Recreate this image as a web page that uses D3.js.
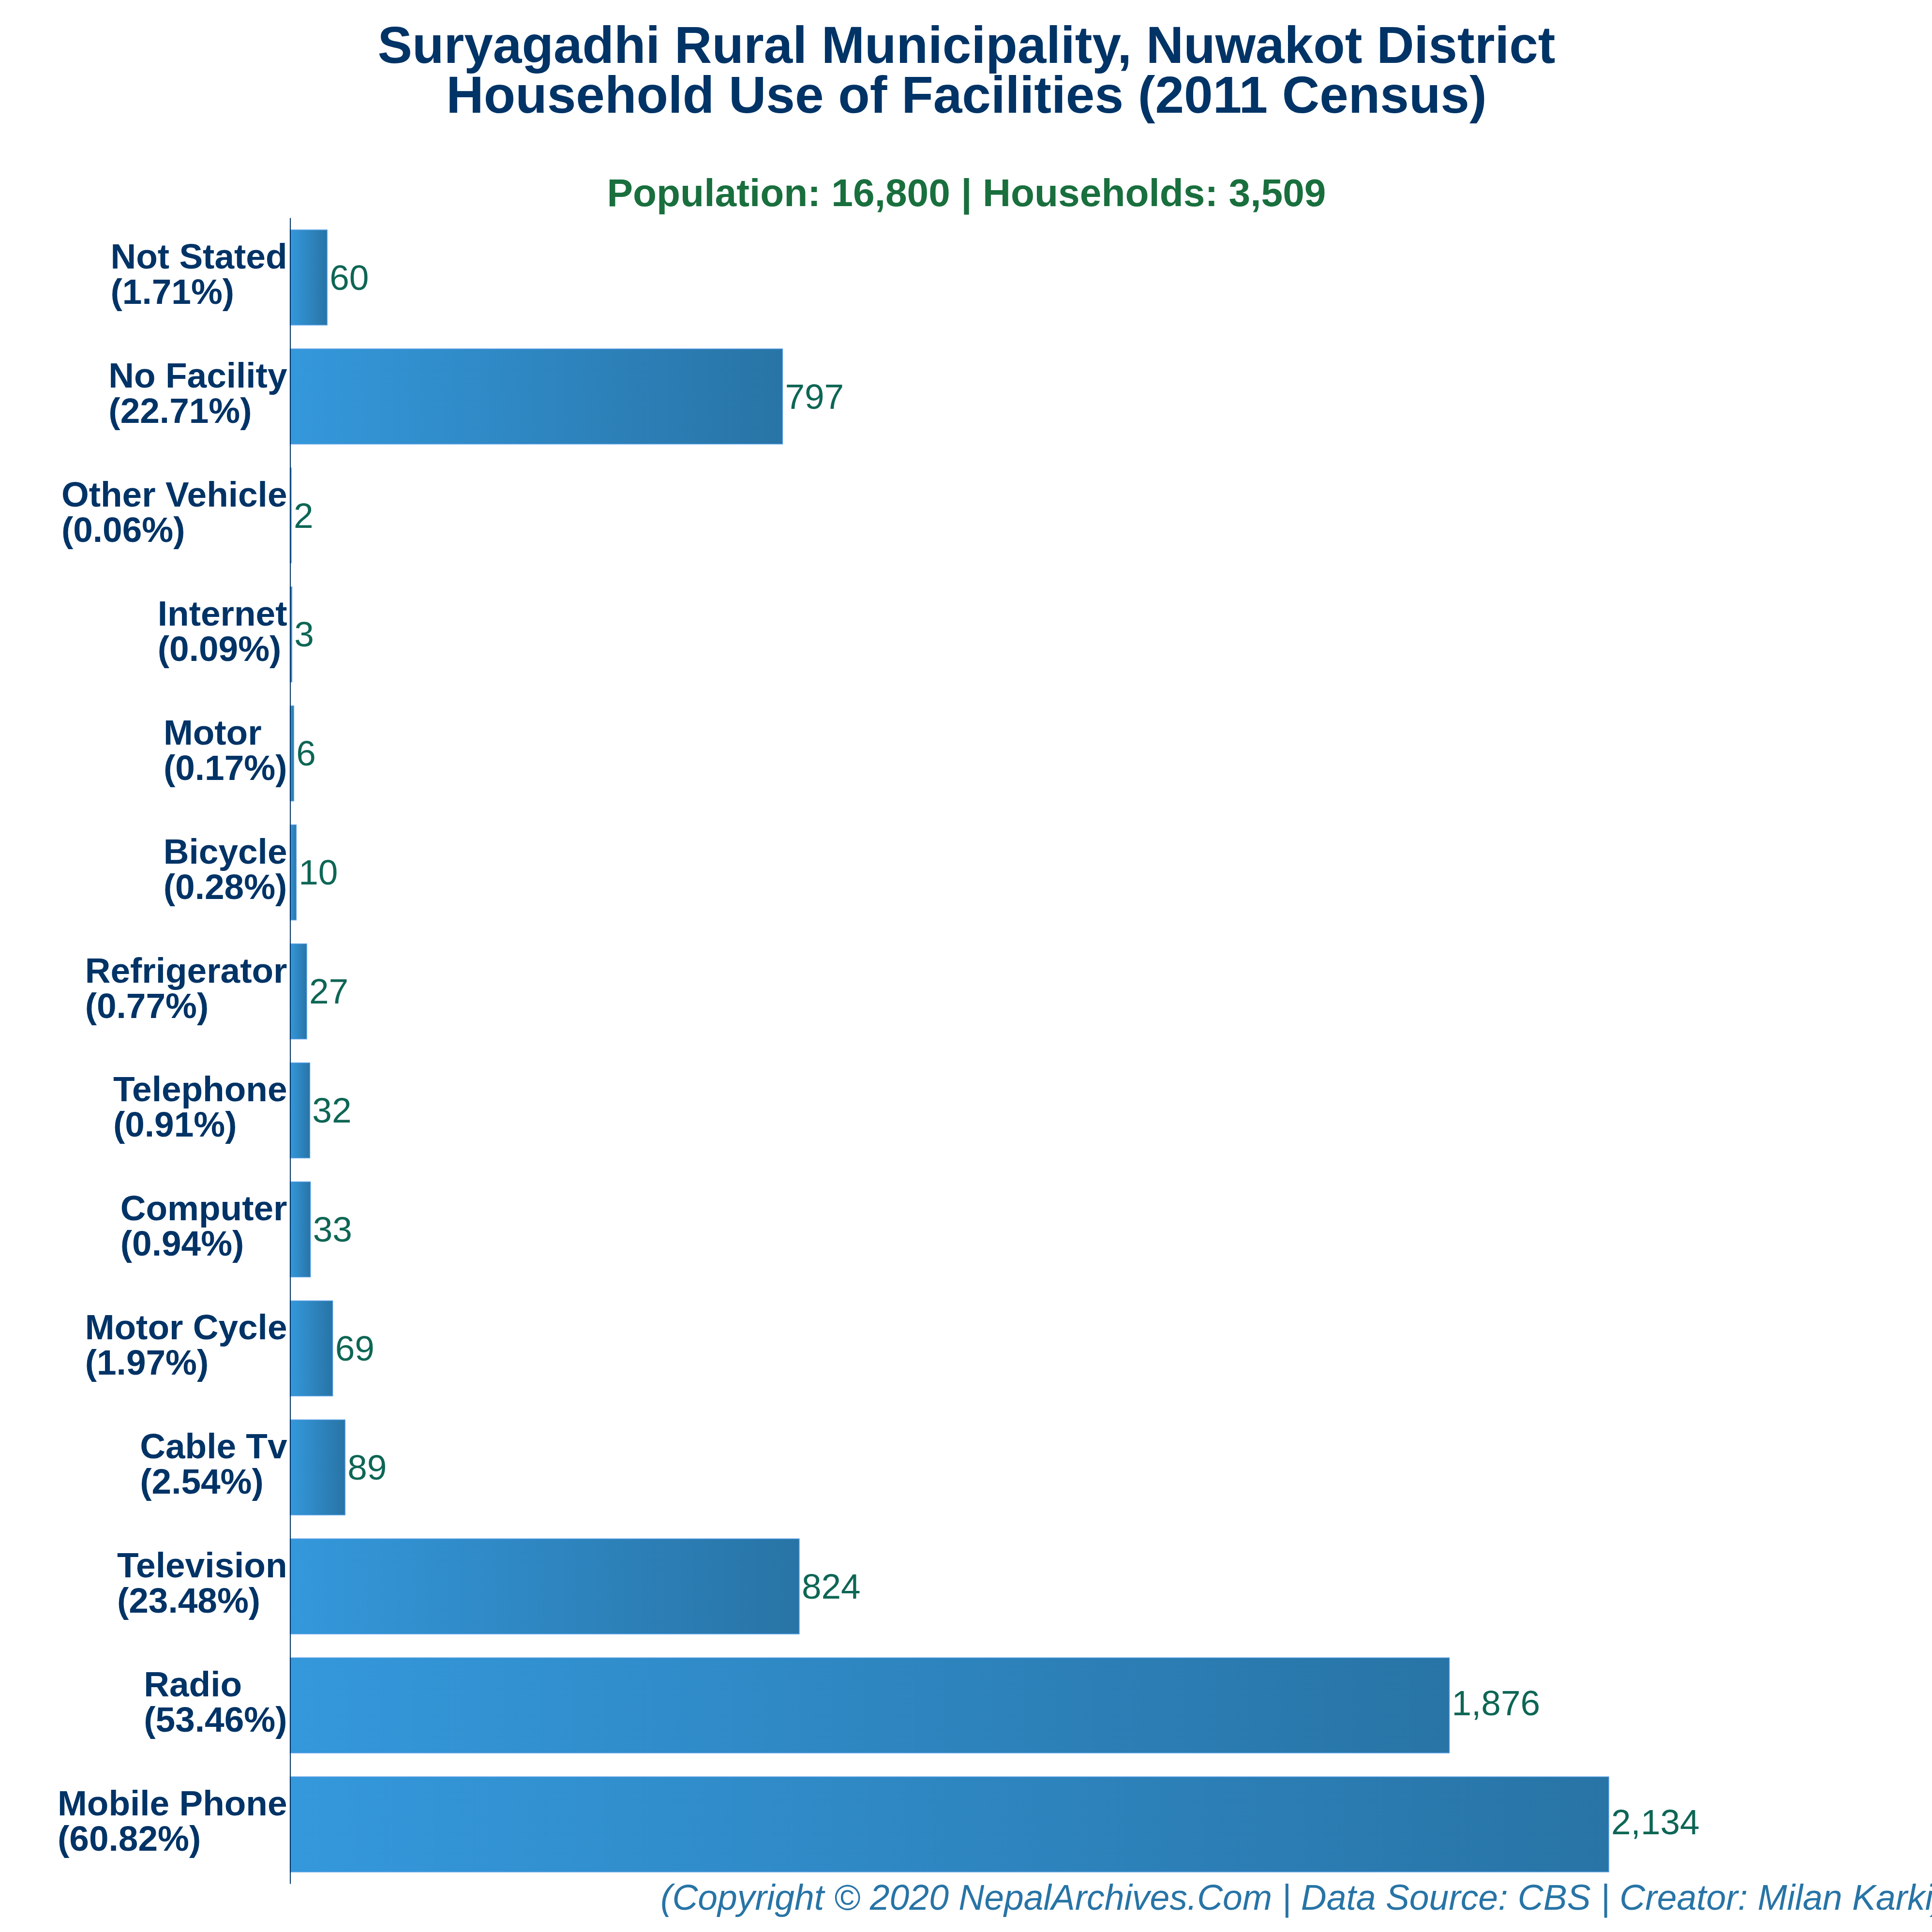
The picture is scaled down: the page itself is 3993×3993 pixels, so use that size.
<!DOCTYPE html>
<html>
<head>
<meta charset="utf-8">
<script src="https://cdn.jsdelivr.net/npm/d3@7"></script>
<style>
  html, body { margin: 0; padding: 0; background: #fff; }
  svg { display: block; }
  text { font-family: "Liberation Sans", Arial, sans-serif; }
</style>
</head>
<body>
<div id="chart"></div>
<script>
const categories = ["Not Stated", "No Facility", "Other Vehicle", "Internet", "Motor", "Bicycle", "Refrigerator",
  "Telephone", "Computer", "Motor Cycle", "Cable Tv", "Television", "Radio", "Mobile Phone"]
const households = [60, 797, 2, 3, 6, 10, 27, 32, 33, 69, 89, 824, 1876, 2134]
const percents = ["1.71", "22.71", "0.06", "0.09", "0.17", "0.28", "0.77", "0.91", "0.94", "1.97", "2.54", "23.48", "53.46", "60.82"]
const titleLines = ["Suryagadhi Rural Municipality, Nuwakot District", "Household Use of Facilities (2011 Census)"]
const subtitle = "Population: 16,800 | Households: 3,509"
const credit = "(Copyright © 2020 NepalArchives.Com | Data Source: CBS | Creator: Milan Karki)"

const size = 3993
const plot = {left: 599.5, right: 3325, top: 450, bottom: 3893}
const centerX = 1997.5

const svg = d3.select("#chart").append("svg")
  .attr("width", size)
  .attr("height", size)
  .attr("viewBox", [0, 0, size, size])

const defs = svg.append("defs")
const gradient = defs.append("linearGradient")
  .attr("id", "barFill")
gradient.append("stop").attr("offset", "0%").attr("stop-color", "#3498db")
gradient.append("stop").attr("offset", "100%").attr("stop-color", "#2874a6")

const xScale = d3.scaleLinear()
  .domain([0, d3.max(households)])
  .range([plot.left, plot.right])

const yScale = d3.scaleBand()
  .domain(categories)
  .range([plot.top, plot.bottom])
  .paddingInner(0.2)
  .paddingOuter(0.1)

// Bars, each one with the gradient stretched over its own width.
svg.append("g")
  .selectAll("rect")
  .data(categories)
  .join("rect")
  .attr("x", xScale(0))
  .attr("y", d => yScale(d) + 0.5)
  .attr("width", (d, i) => xScale(households[i]) - xScale(0))
  .attr("height", yScale.bandwidth())
  .attr("fill", "url(#barFill)")
  .attr("stroke", "#5aa0e6")
  .attr("stroke-width", 1.5)

// Value labels at the end of the bars. Labels with a comma sit a little higher,
// the comma's tail counts when they get centred on the bar.
svg.append("g")
  .selectAll("text")
  .data(categories)
  .join("text")
  .attr("x", (d, i) => xScale(households[i]) + 5)
  .attr("y", (d, i) => yScale(d) + yScale.bandwidth() / 2 + (households[i] >= 1000 ? 21 : 25.7))
  .attr("font-size", 73)
  .attr("fill", "#0e6655")
  .text((d, i) => d3.format(",")(households[i]))

// Y axis. The labels are two lines, left aligned inside a block that ends at the axis.
const yAxis = svg.append("g")
  .attr("transform", "translate(" + plot.left + ",0)")
  .call(d3.axisLeft(yScale).tickSize(0).tickPadding(8))

yAxis.select(".domain")
  .attr("stroke", "#003366")
  .attr("stroke-width", 2)

yAxis.selectAll(".tick text").each(function (d, i) {
  const label = d3.select(this)
    .attr("font-size", 73)
    .attr("font-weight", "bold")
    .attr("fill", "#003366")
    .attr("text-anchor", "start")
    .attr("dy", null)
    .attr("y", null)
    .text(null)
  const lines = [d, "(" + percents[i] + "%)"]
  const spans = lines.map((line, j) => label.append("tspan")
    .attr("y", j === 0 ? -18 : 55)
    .text(line))
  const widest = d3.max(spans, s => s.node().getComputedTextLength())
  spans.forEach(s => s.attr("x", -6 - widest))
})

// Title block.
svg.append("g")
  .selectAll("text")
  .data(titleLines)
  .join("text")
  .attr("x", centerX)
  .attr("y", (d, i) => 130 + i * 103)
  .attr("text-anchor", "middle")
  .attr("font-size", 107.2)
  .attr("font-weight", "bold")
  .attr("fill", "#003366")
  .text(d => d)

svg.append("text")
  .attr("x", centerX)
  .attr("y", 426)
  .attr("text-anchor", "middle")
  .attr("font-size", 80.3)
  .attr("font-weight", "bold")
  .attr("fill", "#196f3d")
  .text(subtitle)

svg.append("text")
  .attr("x", 1365)
  .attr("y", 3947)
  .attr("font-size", 73.3)
  .attr("font-style", "italic")
  .attr("fill", "#2874a6")
  .text(credit)
</script>
</body>
</html>
